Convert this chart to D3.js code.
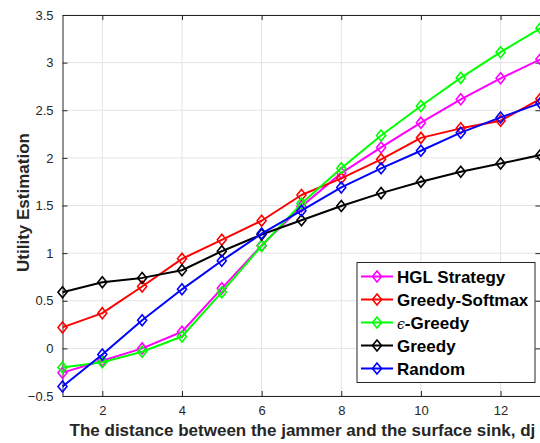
<!DOCTYPE html>
<html>
<head>
<meta charset="utf-8">
<script src="https://cdn.jsdelivr.net/npm/d3@7"></script>
<style>
  html, body { margin: 0; padding: 0; background: #fff; }
  svg { display: block; }
</style>
</head>
<body>
<svg id="chart" width="540" height="443"></svg>
<script>
// Distances between the jammer and the surface sink
const distances = [1, 2, 3, 4, 5, 6, 7, 8, 9, 10, 11, 12, 13];

// Utility estimation per strategy
const hglStrategy   = [-0.255, -0.13, 0.00, 0.175, 0.63, 1.08, 1.49, 1.84, 2.11, 2.37, 2.615, 2.835, 3.035];
const greedySoftmax = [0.22, 0.37, 0.65, 0.94, 1.14, 1.34, 1.61, 1.785, 1.985, 2.21, 2.31, 2.39, 2.62];
const epsGreedy     = [-0.20, -0.145, -0.035, 0.125, 0.59, 1.075, 1.52, 1.89, 2.235, 2.545, 2.84, 3.11, 3.36];
const greedy        = [0.59, 0.695, 0.74, 0.82, 1.02, 1.195, 1.345, 1.495, 1.63, 1.75, 1.855, 1.94, 2.03];
const randomPolicy  = [-0.40, -0.065, 0.295, 0.62, 0.92, 1.205, 1.445, 1.69, 1.89, 2.075, 2.265, 2.425, 2.575];

const xTicks = [2, 4, 6, 8, 10, 12];
const yTicks = [-0.5, 0, 0.5, 1, 1.5, 2, 2.5, 3, 3.5];

const series = [
  { name: "HGL Strategy",   color: "#ff00ff", values: hglStrategy },
  { name: "Greedy-Softmax", color: "#ff0000", values: greedySoftmax },
  { name: "-Greedy",        color: "#00ff00", values: epsGreedy, eps: true },
  { name: "Greedy",         color: "#000000", values: greedy },
  { name: "Random",         color: "#0000ff", values: randomPolicy }
];

const svg = d3.select("#chart");
const plotL = 62.5, plotR = 540.4, plotT = 15, plotB = 396;

const x = d3.scaleLinear().domain([1, 13]).range([plotL, plotR]);
const y = d3.scaleLinear().domain([-0.5, 3.5]).range([plotB, plotT]);

const axisColor = "#262626";
const font = "Liberation Sans, Arial, sans-serif";

// grid
const grid = svg.append("g");
grid.selectAll("line.vx").data(xTicks).join("line")
  .attr("x1", d => x(d)).attr("x2", d => x(d))
  .attr("y1", plotT).attr("y2", plotB)
  .attr("stroke", "#e3e3e3").attr("stroke-width", 1);
grid.selectAll("line.hy").data(yTicks).join("line")
  .attr("x1", plotL).attr("x2", plotR)
  .attr("y1", d => y(d)).attr("y2", d => y(d))
  .attr("stroke", "#e3e3e3").attr("stroke-width", 1);

// axes (ticks inward)
const tickLen = 5;
const xAxisB = d3.axisBottom(x).tickValues(xTicks).tickSizeInner(-tickLen).tickSizeOuter(0).tickPadding(10);
const xAxisT = d3.axisTop(x).tickValues(xTicks).tickSizeInner(-tickLen).tickSizeOuter(0).tickFormat("");
const yAxisL = d3.axisLeft(y).tickValues(yTicks).tickSizeInner(-tickLen).tickSizeOuter(0).tickPadding(9).tickFormat(d3.format("~g"));
const yAxisR = d3.axisRight(y).tickValues(yTicks).tickSizeInner(-tickLen).tickSizeOuter(0).tickFormat("");

function styleAxis(g) {
  g.selectAll("path.domain").attr("stroke", axisColor).attr("stroke-width", 1);
  g.selectAll(".tick line").attr("stroke", axisColor);
  g.selectAll("text").attr("fill", axisColor).style("font-family", font).style("font-size", "13px");
}
svg.append("g").attr("transform", `translate(0,${plotB})`).call(xAxisB).call(styleAxis);
svg.append("g").attr("transform", `translate(0,${plotT})`).call(xAxisT).call(styleAxis);
svg.append("g").attr("transform", `translate(${plotL},0)`).call(yAxisL).call(styleAxis);
svg.append("g").attr("transform", `translate(${plotR},0)`).call(yAxisR).call(styleAxis);

// diamond marker path
const diamond = (cx, cy) => `M${cx},${cy - 5.5}L${cx + 4.5},${cy}L${cx},${cy + 5.5}L${cx - 4.5},${cy}Z`;

const line = d3.line().x((d, i) => x(distances[i])).y(d => y(d));
const plot = svg.append("g");
series.forEach(s => {
  const g = plot.append("g");
  g.append("path").datum(s.values)
    .attr("d", line).attr("fill", "none")
    .attr("stroke", s.color).attr("stroke-width", 2).attr("stroke-linejoin", "round");
  g.selectAll("path.m").data(s.values).join("path")
    .attr("class", "m")
    .attr("d", (d, i) => diamond(x(distances[i]), y(d)))
    .attr("fill", "none").attr("stroke", s.color).attr("stroke-width", 1.6);
});

// axis labels
svg.append("text")
  .attr("x", (plotL + plotR) / 2 + 1).attr("y", 436)
  .attr("text-anchor", "middle")
  .style("font-family", font).style("font-size", "17px").style("font-weight", "bold")
  .attr("fill", axisColor)
  .text("The distance between the jammer and the surface sink, dj");

svg.append("text")
  .attr("transform", `translate(29,${(plotT + plotB) / 2 - 3}) rotate(-90)`)
  .attr("text-anchor", "middle")
  .style("font-family", font).style("font-size", "17px").style("font-weight", "bold")
  .attr("fill", axisColor)
  .text("Utility Estimation");

// legend
const lg = svg.append("g");
lg.append("rect")
  .attr("x", 357).attr("y", 262.5).attr("width", 178).attr("height", 120)
  .attr("fill", "#fff").attr("stroke", axisColor).attr("stroke-width", 1);
series.forEach((s, i) => {
  const cy = 276.5 + i * 23;
  lg.append("line").attr("x1", 361).attr("x2", 393).attr("y1", cy).attr("y2", cy)
    .attr("stroke", s.color).attr("stroke-width", 2);
  lg.append("path").attr("d", diamond(377, cy))
    .attr("fill", "none").attr("stroke", s.color).attr("stroke-width", 1.6);
  const t = lg.append("text").attr("x", 397).attr("y", cy + 6)
    .style("font-family", font).style("font-size", "17px").style("font-weight", "bold")
    .attr("fill", "#000");
  if (s.eps) {
    t.append("tspan").text("\u03F5")
      .style("font-family", "DejaVu Serif, serif").style("font-size", "14px")
      .style("font-style", "italic").style("font-weight", "normal");
  }
  t.append("tspan").text(s.name);
});
</script>
</body>
</html>
